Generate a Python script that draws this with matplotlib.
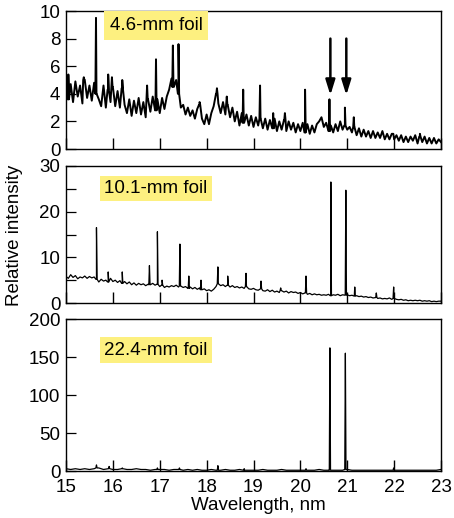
import numpy as np
import matplotlib
matplotlib.use("Agg")
import matplotlib.pyplot as plt
from matplotlib.ticker import MultipleLocator

plt.rcParams['font.family'] = ['Liberation Sans', 'DejaVu Sans']

# ---------------- data ----------------
# baseline samples every 0.05 nm from 15.00 to 23.00
base_46 = [
    5.1, 3.6, 4.7, 3.4, 4.9, 3.8, 4.6, 3.3, 5.0, 3.7,
    4.6, 3.5, 4.8, 4.0, 3.6, 3.1, 4.6, 3.0, 4.3, 3.4,
    4.5, 3.1, 4.2, 3.0, 4.4, 3.2, 2.6, 3.6, 2.4, 3.5,
    2.6, 3.7, 2.5, 3.4, 2.3, 3.6, 2.7, 3.8, 2.8, 3.6,
    2.6, 3.7, 2.9, 3.8, 4.3, 5.1, 4.5, 5.0, 4.0, 3.0,
    3.2, 2.5, 3.0, 2.4, 2.8, 2.2, 2.9, 3.2, 2.2, 1.8,
    2.5, 1.8, 2.6, 3.1, 4.0, 3.3, 2.6, 3.4, 2.5, 3.2,
    2.3, 3.0, 2.0, 2.7, 1.7, 2.6, 1.9, 2.5, 1.7, 2.4,
    1.6, 2.3, 1.7, 2.2, 1.5, 2.2, 1.4, 2.1, 1.5, 2.2,
    1.3, 2.0, 1.4, 2.1, 1.3, 2.0, 1.4, 1.9, 1.2, 1.8,
    1.3, 1.9, 1.2, 1.8, 1.1, 1.7, 1.2, 1.8, 2.0, 2.3,
    1.6, 1.9, 1.3, 1.7, 1.2, 1.8, 1.3, 2.0, 1.4, 1.7,
    1.4, 1.6, 1.2, 1.6, 1.0, 1.5, 0.9, 1.4, 0.9, 1.3,
    0.8, 1.3, 0.8, 1.2, 0.8, 1.3, 0.7, 1.1, 0.7, 1.1,
    0.7, 1.0, 0.6, 1.0, 0.5, 0.9, 0.5, 0.9, 0.6, 1.0,
    0.4, 0.9, 0.5, 0.9, 0.4, 0.8, 0.4, 0.8, 0.4, 0.7,
    0.5]
peaks_46_pos = [15.05, 15.38, 15.64, 15.90, 15.98, 16.20, 16.73, 16.92, 17.28, 17.40,
                17.85, 18.22, 18.43, 18.78, 19.14, 19.42, 19.67, 20.10, 20.62, 20.95,
                21.14, 21.97, 22.55]
peaks_46_h = [5.4, 5.2, 9.5, 5.4, 5.2, 5.0, 4.6, 6.5, 7.5, 7.6,
              3.4, 4.4, 3.8, 4.3, 4.6, 2.6, 2.6, 4.3, 3.6, 3.0,
              2.3, 1.1, 1.1]

base_101 = [
    5.8, 5.4, 6.2, 5.6, 6.0, 5.3, 5.7, 5.5, 5.9, 5.4,
    5.8, 5.5, 5.7, 5.2, 4.6, 5.2, 4.8, 5.0, 4.6, 5.4,
    4.7, 5.0, 4.5, 4.9, 4.3, 4.7, 4.2, 4.6, 4.0, 4.4,
    3.9, 4.3, 4.0, 4.2, 3.8, 4.1, 4.0, 4.3, 3.9, 4.1,
    3.6, 3.9, 3.4, 3.7, 3.5, 3.8, 3.6, 3.9, 3.5, 3.7,
    3.4, 3.6, 3.2, 3.5, 3.1, 3.4, 3.0, 3.3, 2.9, 3.1,
    2.7, 2.9, 2.6, 3.0, 3.6, 4.2, 3.8, 4.0, 3.6, 3.9,
    3.5, 3.8, 3.4, 3.6, 3.3, 3.5, 3.2, 3.6, 3.1, 3.0,
    3.2, 2.9, 2.8, 3.1, 2.7, 2.6, 2.9, 2.5, 2.8, 2.4,
    2.6, 2.3, 2.7, 2.4, 2.6, 2.2, 2.5, 2.3, 2.4, 2.1,
    2.3, 2.0, 2.2, 1.9, 2.1, 1.8, 2.0, 1.8, 1.9, 1.7,
    1.8, 1.7, 1.9, 1.6, 1.8, 1.7, 1.9, 1.6, 1.8, 1.7,
    1.8, 1.6, 1.7, 1.5, 1.6, 1.4, 1.5, 1.3, 1.4, 1.2,
    1.3, 1.1, 1.2, 1.0, 1.1, 0.9, 1.0, 0.9, 1.1, 0.8,
    1.0, 0.8, 0.7, 0.8, 0.6, 0.7, 0.5, 0.6, 0.5, 0.6,
    0.5, 0.6, 0.4, 0.5, 0.4, 0.5, 0.3, 0.4, 0.3, 0.4,
    0.4]
peaks_101_pos = [15.65, 15.90, 16.20, 16.78, 16.95, 17.05, 17.43, 17.62, 17.88, 18.24,
                 18.45, 18.84, 19.16, 19.58, 20.12, 20.65, 20.97, 21.16, 21.62, 21.99]
peaks_101_h = [16.5, 6.8, 6.8, 8.2, 15.6, 5.0, 12.9, 5.9, 5.0, 7.9,
               5.9, 6.5, 4.8, 3.3, 5.9, 26.5, 24.7, 3.5, 2.2, 3.5]

# baseline samples every 0.1 nm from 15.0 to 23.0
base_224 = [
    3, 2, 3, 2, 3, 2, 3, 4, 2, 3, 2,
    2, 3, 2, 2, 3, 2, 2, 1, 2, 2,
    2, 1, 2, 2, 1, 2, 1, 2, 1, 1,
    2, 1, 1, 2, 1, 1, 2, 1, 1, 1,
    1, 2, 1, 1, 1, 2, 1, 1, 1, 1,
    1, 1, 1, 2, 1, 1, 1, 1, 1, 2,
    1, 1, 1, 1, 1, 1, 1, 1, 1, 1,
    1, 1, 1, 1, 1, 1, 1, 1, 1, 2]
peaks_224_pos = [15.65, 15.92, 16.20, 16.95, 17.42, 18.24, 18.80, 20.12, 20.63, 20.96, 21.99]
peaks_224_h = [8, 6, 4, 4, 4, 7, 3, 3, 162, 155, 4]

labels = ["4.6-mm foil", "10.1-mm foil", "22.4-mm foil"]
arrow_x = [20.64, 20.98]
arrow_top, arrow_tip = 8.0, 3.9


def spectrum(base, step, pos, h, hw=0.013):
    bx = 15.0 + step * np.arange(len(base))
    by = np.asarray(base, dtype=float)
    xs = list(bx)
    ys = list(by)
    for p, hh in zip(pos, h):
        b = by[np.argmin(np.abs(bx - p))]
        xs += [p - hw, p, p + hw]
        ys += [b, hh, b]
    order = np.argsort(np.asarray(xs), kind="stable")
    return np.asarray(xs)[order], np.asarray(ys)[order]


W, H = 454, 518
fig = plt.figure(figsize=(W / 100, H / 100), dpi=100)

def axes_px(top, bottom, left=66, right=441):
    return fig.add_axes([left / W, 1 - bottom / H, (right - left) / W, (bottom - top) / H])

ax1 = axes_px(11, 149)
ax2 = axes_px(166, 303)
ax3 = axes_px(319, 471)

x1, y1 = spectrum(base_46, 0.05, peaks_46_pos, peaks_46_h)
x2, y2 = spectrum(base_101, 0.05, peaks_101_pos, peaks_101_h)
x3, y3 = spectrum(base_224, 0.1, peaks_224_pos, peaks_224_h)

ax1.plot(x1, y1, color="black", lw=1.4)
ax2.plot(x2, y2, color="black", lw=0.9)
ax3.plot(x3, y3, color="black", lw=0.9)

ax1.set_ylim(0, 10)
ax1.yaxis.set_major_locator(MultipleLocator(2))
ax2.set_ylim(0, 30)
ax2.yaxis.set_major_locator(MultipleLocator(10))
ax2.yaxis.set_minor_locator(MultipleLocator(5))
ax3.set_ylim(0, 200)
ax3.yaxis.set_major_locator(MultipleLocator(50))

fs = 13.5
for ax, lab, yf, pad in zip([ax1, ax2, ax3], labels, [0.895, 0.836, 0.796], [0.32, 0.22, 0.25]):
    ax.set_xlim(15, 23)
    ax.xaxis.set_major_locator(MultipleLocator(1))
    ax.tick_params(axis="x", which="both", direction="in", length=8, width=1.0,
                   top=False, pad=5.5, labelsize=fs)
    ax.tick_params(axis="y", which="both", direction="in", length=7, width=0.9,
                   right=False, pad=4, labelsize=fs)
    for s in ax.spines.values():
        s.set_linewidth(1.0)
    ax.text(0.24, yf, lab, transform=ax.transAxes, ha="center", va="center",
            fontsize=fs, bbox=dict(boxstyle="square,pad=%s" % pad, fc="#fdf080", ec="none"),
            zorder=5)

ax1.tick_params(axis="x", labelbottom=False)
ax2.tick_params(axis="x", labelbottom=False)

for xa in arrow_x:
    ax1.annotate("", xy=(xa, arrow_tip), xytext=(xa, arrow_top),
                 arrowprops=dict(arrowstyle="-|>,head_length=0.9,head_width=0.28",
                                 color="black", lw=1.8, shrinkA=0, shrinkB=0))

fig.text(15 / W, 1 - 235 / H, "Relative intensity", rotation=90,
         ha="center", va="center", fontsize=fs)
fig.text(258 / W, 1 - 506 / H, "Wavelength, nm", ha="center", va="center", fontsize=fs)

fig.savefig("out.png", dpi=100)
